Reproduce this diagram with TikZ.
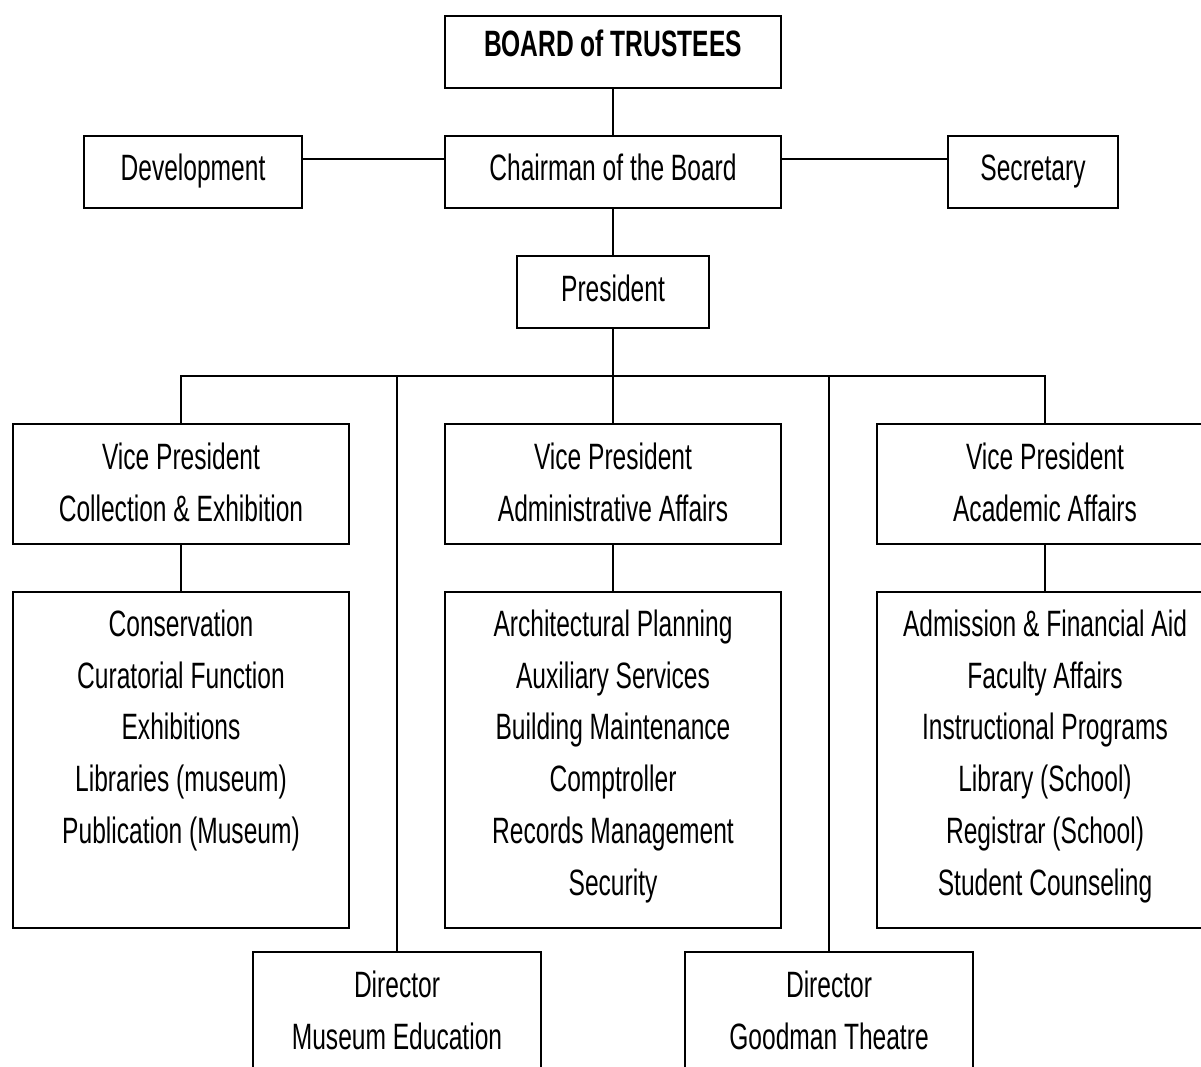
\documentclass[tikz,border=0pt]{standalone}
\usepackage{fontspec}
\setmainfont[FakeStretch=0.67]{Liberation Sans}
\tikzset{
  orgbox/.style={draw, line width=1.4pt, inner sep=0pt, align=center, font=\fontsize{27.5}{38.8}\selectfont},
  oneline/.style={orgbox, minimum height=54pt, text height=20.75pt, text depth=7.25pt},
  orgline/.style={line width=1pt}
}
\newcommand{\liftlines}{\\[-27.5pt]\mbox{}}
\newcommand{\liftpair}{\\[-35.8pt]\mbox{}}
\begin{document}
\begin{tikzpicture}[x=0.75pt, y=-0.75pt]
  \useasboundingbox (0,0) rectangle (1201,1066);
  \clip (0,0) rectangle (1201,1066);
  % top of the chart
  \node[orgbox, minimum width=252pt, minimum height=54pt, text height=17pt, text depth=10pt, font=\fontsize{27.5}{38.8}\selectfont\bfseries] (board) at (613,52) {BOARD of TRUSTEES};
  \node[oneline, minimum width=252pt] (chairman) at (613,172) {Chairman of the Board};
  \node[oneline, minimum width=163pt] (development) at (193,172) {Development};
  \node[oneline, minimum width=127pt] (secretary) at (1033,172) {Secretary};
  \node[oneline, minimum width=144pt] (president) at (613,292) {President};
  % vice presidents
  \node[orgbox, minimum width=252pt, minimum height=90pt] (vpcollection) at (181,484) {Vice President\\Collection \& Exhibition\liftpair};
  \node[orgbox, minimum width=252pt, minimum height=90pt] (vpadmin) at (613,484) {Vice President\\Administrative Affairs\liftpair};
  \node[orgbox, minimum width=252pt, minimum height=90pt] (vpacademic) at (1045,484) {Vice President\\Academic Affairs\liftpair};
  % departments
  \node[orgbox, minimum width=252pt, minimum height=252pt] (collection) at (181,760) {Conservation\\Curatorial Function\\Exhibitions\\Libraries (museum)\\Publication (Museum)\\\mbox{}\liftlines};
  \node[orgbox, minimum width=252pt, minimum height=252pt] (admin) at (613,760) {Architectural Planning\\Auxiliary Services\\Building Maintenance\\Comptroller\\Records Management\\Security\liftlines};
  \node[orgbox, minimum width=252pt, minimum height=252pt] (academic) at (1045,760) {Admission \& Financial Aid\\Faculty Affairs\\Instructional Programs\\Library (School)\\Registrar (School)\\Student Counseling\liftlines};
  % directors
  \node[orgbox, line width=1pt, minimum width=216pt, minimum height=90pt] (dirmuseum) at (397,1012) {Director\\Museum Education\liftpair};
  \node[orgbox, line width=1pt, minimum width=216pt, minimum height=90pt] (dirtheatre) at (829,1012) {Director\\Goodman Theatre\liftpair};
  % connectors
  \coordinate (rowlink) at (613,159);
  \coordinate (busleft) at (181,376);
  \coordinate (busright) at (1045,376);
  \coordinate (busmid) at (613,376);
  \draw[orgline] (board) -- (chairman);
  \draw[orgline] (development.east |- rowlink) -- (chairman.west |- rowlink);
  \draw[orgline] (chairman.east |- rowlink) -- (secretary.west |- rowlink);
  \draw[orgline] (chairman) -- (president);
  \draw[orgline] (president) -- (busmid);
  \draw[orgline] (vpcollection.north) -- (busleft) -- (busright) -- (vpacademic.north);
  \draw[orgline] (busmid) -- (vpadmin);
  \draw[orgline] (dirmuseum.north) -- (dirmuseum.north |- busmid);
  \draw[orgline] (dirtheatre.north) -- (dirtheatre.north |- busmid);
  \draw[orgline] (vpcollection) -- (collection);
  \draw[orgline] (vpadmin) -- (admin);
  \draw[orgline] (vpacademic) -- (academic);
\end{tikzpicture}
\end{document}
